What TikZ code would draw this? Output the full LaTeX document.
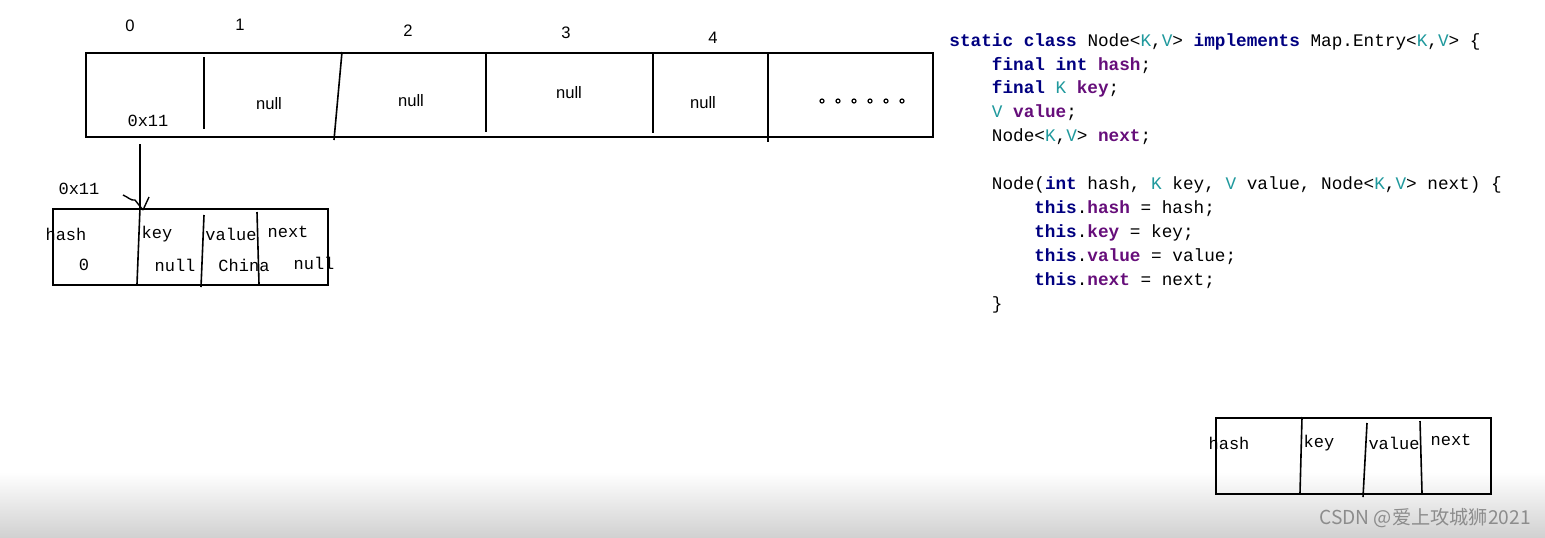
\documentclass[tikz,border=0pt]{standalone}
\usepackage{fontspec}
\setmainfont{Liberation Sans}
\newfontfamily\jmono{Liberation Mono}
\newfontfamily\jcjk{Noto Sans CJK SC}
\usetikzlibrary{arrows.meta,calc}
\definecolor{kwc}{HTML}{000080}
\definecolor{fdc}{HTML}{660E7A}
\definecolor{tpc}{HTML}{20999D}
\newcommand\jkw[1]{{\color{kwc}\bfseries #1}}
\newcommand\jfd[1]{{\color{fdc}\bfseries #1}}
\newcommand\jtp[1]{{\color{tpc}#1}}
\newcommand\jind{\hspace*{2.4em}}
\newcommand\jindd{\hspace*{4.8em}}
\begin{document}
\begin{tikzpicture}[x=0.5pt,y=-0.5pt,
  cell/.style={draw,line width=0.8pt,inner sep=0pt,anchor=north west},
  div/.style={line width=0.8pt},
  lab/.style={inner sep=0pt,font=\fontsize{8.3}{10}\selectfont},
  mlab/.style={inner sep=0pt,font=\jmono\fontsize{8.5}{10}\selectfont},
  code/.style={inner sep=0pt,align=left,font=\jmono\fontsize{8.85}{11.95}\selectfont}]
\useasboundingbox (0,0) rectangle (1545,537);
% bottom band
\shade[top color=white,bottom color=black!18] (0,472) rectangle (1545,537);

% array
\node[cell,minimum width=423.5pt,minimum height=42pt] (arr) at (85,52) {};
\draw[div] (204,57) -- (204,129);
\draw[div] (342,52) -- (334,140);
\draw[div] (486,52) -- (486,132);
\draw[div] (653,54) -- (653,133);
\draw[div] (768,52) -- (768,142);
\node[lab] (i0) at (130,26) {0};
\node[lab] (i1) at (240,25) {1};
\node[lab] (i2) at (408,31) {2};
\node[lab] (i3) at (566,33) {3};
\node[lab] (i4) at (713,38) {4};
\node[lab] (c1) at (269,104) {null};
\node[lab] (c2) at (411,101) {null};
\node[lab] (c3) at (569,93) {null};
\node[lab] (c4) at (703,103) {null};
\foreach \xx in {822,838,854,870,886,902}
  \draw[line width=0.6pt] (\xx,101) circle (2);
\node[mlab] (c0) at (148,121) {0x11};

% pointer
\coordinate (ptr) at (140,144);
\node[mlab] (addr) at (79,189) {0x11};
\node[cell,minimum width=137.5pt,minimum height=38pt] (nb) at (52,208) {};
\draw[div] (ptr) -- (ptr |- nb.north);
\draw[line width=0.7pt] (123,195) .. controls (128,197) and (131,201) .. (135,200) -- (143,210);
\draw[line width=0.7pt] (149,197) -- (143,210);
\draw[div] (140,208) -- (137,284);
\draw[div] (204,215) -- (201,287);
\draw[div] (257,212) -- (259,284);
\node[mlab] (nh) at (66,234) {hash};
\node[mlab] (nk) at (157,234) {key};
\node[mlab] (nv) at (231,234) {value};
\node[mlab] (nn) at (288,232) {next};
\node[mlab] (vh) at (84,265) {0};
\node[mlab] (vk) at (175,265) {null};
\node[mlab] (vv) at (244,265) {China};
\node[mlab] (vn) at (314,263) {null};

% empty node box
\node[cell,minimum width=137.5pt,minimum height=38pt] (eb) at (1215,417) {};
\draw[div] (1302,417) -- (1300,493);
\draw[div] (1367,423) -- (1363,497);
\draw[div] (1420,421) -- (1422,493);
\node[mlab] (eh) at (1229,443) {hash};
\node[mlab] (ek) at (1319,443) {key};
\node[mlab] (ev) at (1394,443) {value};
\node[mlab] (en) at (1451,440) {next};

% code (base anchor = baseline of last line)
\node[code,anchor=base west] (code) at (949,309) {%
\jkw{static class} Node<\jtp{K},\jtp{V}> \jkw{implements} Map.Entry<\jtp{K},\jtp{V}> \{\\
\jind\jkw{final int} \jfd{hash};\\
\jind\jkw{final} \jtp{K} \jfd{key};\\
\jind\jtp{V} \jfd{value};\\
\jind Node<\jtp{K},\jtp{V}> \jfd{next};\\
\mbox{}\\
\jind Node(\jkw{int} hash, \jtp{K} key, \jtp{V} value, Node<\jtp{K},\jtp{V}> next) \{\\
\jindd\jkw{this}.\jfd{hash} = hash;\\
\jindd\jkw{this}.\jfd{key} = key;\\
\jindd\jkw{this}.\jfd{value} = value;\\
\jindd\jkw{this}.\jfd{next} = next;\\
\jind\}};

% watermark
\node[inner sep=0pt,text=black!45,font=\jcjk\fontsize{9.6}{11}\selectfont] (wm) at (1425,518) {CSDN @爱上攻城狮2021};
\end{tikzpicture}
\end{document}
